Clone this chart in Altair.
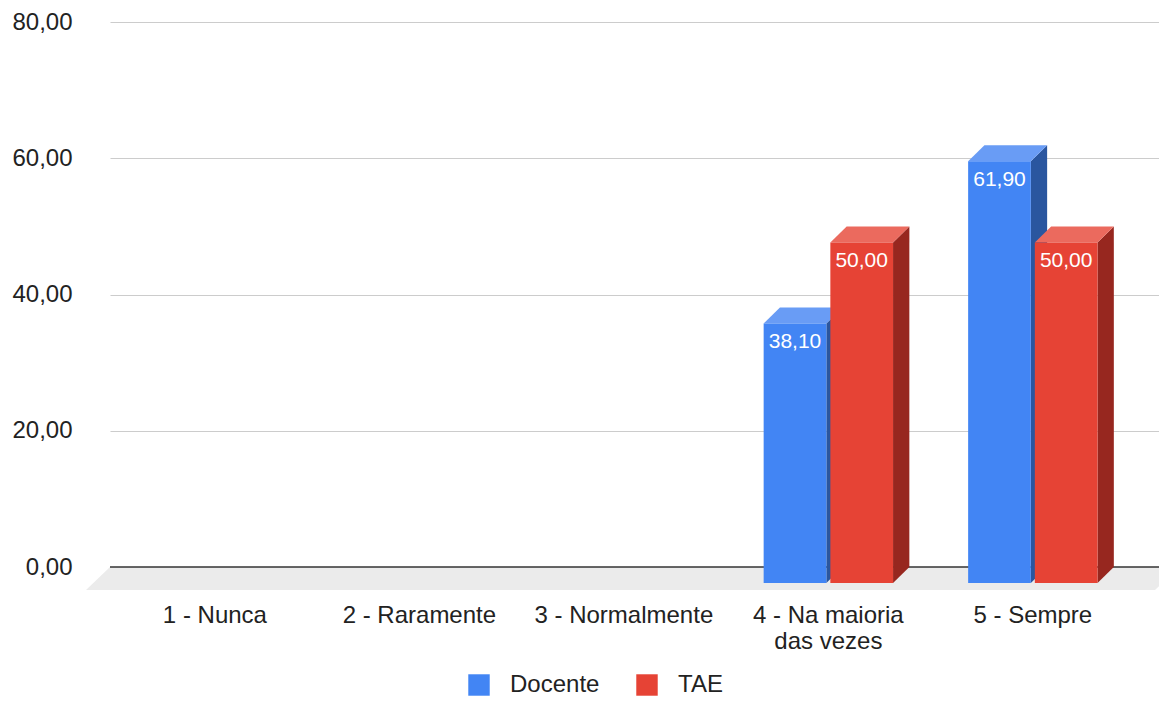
import altair as alt
import pandas as pd

# ---------------- data ----------------
categories = ["1 - Nunca", "2 - Raramente", "3 - Normalmente", "4 - Na maioria\ndas vezes", "5 - Sempre"]
series_names = ["Docente", "TAE"]
docente = [0.0, 0.0, 0.0, 38.10, 61.90]
tae = [0.0, 0.0, 0.0, 50.00, 50.00]
y_ticks = [0, 20, 40, 60, 80]

# ---------------- style / geometry ----------------
FONT = "Liberation Sans"
W, H = 1049, 545
X_DOMAIN = [-0.013, 5.117]
Y_DOMAIN = [0, 80]
PX_X = W / (X_DOMAIN[1] - X_DOMAIN[0])
PX_Y = H / (Y_DOMAIN[1] - Y_DOMAIN[0])
BAR_W = 62.7 / PX_X
GAP = 4.0 / PX_X
DX = 16.3 / PX_X      # 3D depth (x)
DY = 16.0 / PX_Y      # 3D depth (y)
FLOOR_DX = 24.0 / PX_X
FLOOR_DY = 23.0 / PX_Y

front_col = {"Docente": "#4285f4", "TAE": "#e64335"}
top_col = {"Docente": "#699cf5", "TAE": "#eb6a5e"}
side_col = {"Docente": "#2a569f", "TAE": "#97271f"}

xscale = alt.Scale(domain=X_DOMAIN, nice=False, zero=False)
yscale = alt.Scale(domain=Y_DOMAIN, nice=False, zero=False)
yaxis = alt.Axis(values=y_ticks, labelExpr="replace(format(datum.value, '.2f'), '.', ',')",
                 domain=False, ticks=False, labelPadding=38, labelFontSize=24, labelFont=FONT,
                 labelColor="#222222", gridColor="#cccccc", gridWidth=1.2, title=None)

# ---------------- build geometry tables from the data ----------------
front_rows, side_rows, top_rows = {}, {}, {}
for si, (name, vals) in enumerate(zip(series_names, [docente, tae])):
    fr, sr, tr = [], [], []
    for ci, v in enumerate(vals):
        if v <= 0:
            continue
        c = ci + 0.5
        xl = c - GAP / 2 - BAR_W if si == 0 else c + GAP / 2
        xr = xl + BAR_W
        bid = f"{name}-{ci}"
        fr.append(dict(series=name, xl=xl, xr=xr, xm=(xl + xr) / 2, y0=-DY, y1=v - DY, v=v))
        sr.append(dict(id=bid, x=xr, ylo=-DY, yhi=v - DY))
        sr.append(dict(id=bid, x=xr + DX, ylo=0.0, yhi=v))
        tr.append(dict(id=bid, y=v - DY, xlo=xl, xhi=xr))
        tr.append(dict(id=bid, y=v, xlo=xl + DX, xhi=xr + DX))
    front_rows[name] = pd.DataFrame(fr)
    side_rows[name] = pd.DataFrame(sr)
    top_rows[name] = pd.DataFrame(tr)

floor_df = pd.DataFrame([
    dict(y=0.0, xlo=X_DOMAIN[0], xhi=X_DOMAIN[1] + 20 / PX_X),
    dict(y=-FLOOR_DY, xlo=X_DOMAIN[0] - FLOOR_DX, xhi=X_DOMAIN[1] - 4 / PX_X),
])
cat_df = pd.DataFrame(dict(cat=categories, xc=[i + 0.5 for i in range(len(categories))]))

# ---------------- layers ----------------
floor = alt.Chart(floor_df).mark_area(orient="horizontal", color="#ebebeb").encode(
    y=alt.Y("y:Q", scale=yscale, axis=yaxis),
    x=alt.X("xlo:Q", scale=xscale, axis=None),
    x2="xhi:Q",
)

baseline = alt.Chart(pd.DataFrame(dict(y=[0.0]))).mark_rule(color="#333333", strokeWidth=1.6).encode(
    y=alt.Y("y:Q", scale=yscale, axis=yaxis),
    x=alt.value(0),
    x2=alt.value(W),
)

layers = [floor, baseline]
for name in series_names:
    side = alt.Chart(side_rows[name]).mark_area(orient="vertical", color=side_col[name]).encode(
        x=alt.X("x:Q", scale=xscale, axis=None),
        y=alt.Y("yhi:Q", scale=yscale, axis=yaxis),
        y2="ylo:Q",
        detail="id:N",
    )
    top = alt.Chart(top_rows[name]).mark_area(orient="horizontal", color=top_col[name]).encode(
        y=alt.Y("y:Q", scale=yscale, axis=yaxis),
        x=alt.X("xlo:Q", scale=xscale, axis=None),
        x2="xhi:Q",
        detail="id:N",
    )
    front = alt.Chart(front_rows[name]).mark_rect().encode(
        x=alt.X("xl:Q", scale=xscale, axis=None),
        x2="xr:Q",
        y=alt.Y("y1:Q", scale=yscale, axis=yaxis),
        y2="y0:Q",
        color=alt.Color("series:N",
                        scale=alt.Scale(domain=series_names, range=[front_col[s] for s in series_names]),
                        legend=alt.Legend(orient="none", legendX=357, legendY=651, direction="horizontal",
                                          title=None, symbolType="square", symbolSize=460,
                                          symbolStrokeWidth=0, labelFontSize=24, labelFont=FONT,
                                          labelColor="#222222", labelOffset=19, columnPadding=35,
                                          padding=0)),
    )
    label = alt.Chart(front_rows[name]).transform_calculate(
        txt="replace(format(datum.v, '.2f'), '.', ',')"
    ).mark_text(color="white", fontSize=21, font=FONT, baseline="alphabetic", dy=25).encode(
        x=alt.X("xm:Q", scale=xscale, axis=None),
        y=alt.Y("y1:Q", scale=yscale, axis=yaxis),
        text="txt:N",
    )
    layers += [side, top, front, label]

xlabels = alt.Chart(cat_df).mark_text(fontSize=24, font=FONT, color="#222222", baseline="alphabetic",
                                      lineBreak="\n", lineHeight=26).encode(
    x=alt.X("xc:Q", scale=xscale, axis=None),
    y=alt.value(H + 56),
    text="cat:N",
)
layers.append(xlabels)

chart = alt.layer(*layers).properties(
    width=W, height=H,
    autosize=alt.AutoSizeParams(type="none"),
    padding={"left": 102, "top": 14, "right": 0, "bottom": 129},
).configure_view(stroke=None)

chart.save("out.html", embed_options={"renderer": "svg", "actions": False})
